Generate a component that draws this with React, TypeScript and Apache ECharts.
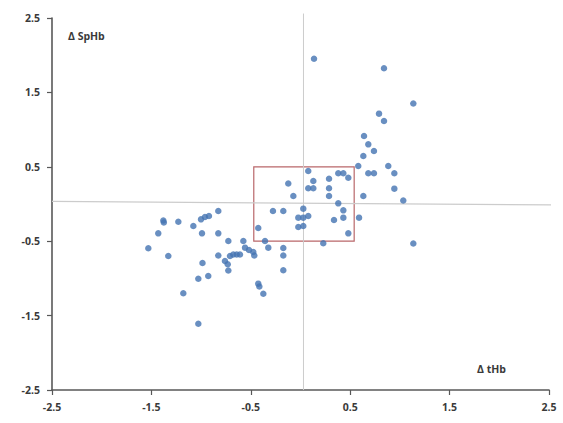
import React, { useEffect, useRef } from "react";
import * as echarts from "echarts";

const tickValues = [-2.5, -1.5, -0.5, 0.5, 1.5, 2.5];

const deltaTHb = [
  -1.531, -1.431, -1.38, -1.375, -1.33, -1.229, -1.179, -1.078, -1.028, -1.028,
  -1.001, -0.961, -0.921, -0.991, -0.986, -0.928, -0.827, -0.827, -0.827, -0.76,
  -0.732, -0.726, -0.709, -0.676, -0.642, -0.609, -0.726, -0.575, -0.558, -0.518,
  -0.475, -0.465, -0.425, -0.357, -0.324, -0.425, -0.414, -0.374, -0.277, -0.173,
  -0.173, -0.173, -0.173, -0.123, -0.072, 0.028, -0.022, 0.028, 0.078, -0.022,
  0.028, 0.078, 0.129, 0.078, 0.129, 0.287, 0.287, 0.287, 0.38, 0.431,
  0.481, 0.38, 0.431, 0.431, 0.337, 0.481, 0.229, 0.136, 0.84, 1.135,
  0.79, 0.84, 0.639, 0.682, 0.739, 0.632, 0.581, 0.883, 0.944, 0.682,
  0.739, 0.944, 1.034, 0.632, 0.589, 1.135,
];

const deltaSpHb = [
  -0.595, -0.394, -0.222, -0.249, -0.699, -0.238, -1.2, -0.296, -1.609, -1.004,
  -0.206, -0.175, -0.161, -0.394, -0.793, -0.968, -0.094, -0.394, -0.692, -0.766,
  -0.81, -0.894, -0.699, -0.679, -0.679, -0.679, -0.497, -0.497, -0.587, -0.618,
  -0.645, -0.692, -0.323, -0.497, -0.587, -1.071, -1.109, -1.206, -0.094, -0.094,
  -0.591, -0.692, -0.891, 0.276, 0.108, -0.063, -0.184, -0.184, -0.161, -0.309,
  -0.296, 0.444, 0.309, 0.211, 0.211, 0.34, 0.211, 0.108, 0.413, 0.413,
  0.353, 0.009, -0.085, -0.184, -0.215, -0.394, -0.528, 1.953, 1.824, 1.351,
  1.214, 1.116, 0.914, 0.802, 0.712, 0.645, 0.511, 0.511, 0.413, 0.413,
  0.413, 0.206, 0.047, 0.108, -0.184, -0.531,
];

const verticalRefLine = [
  [0.03, -2.5],
  [0.03, 2.56],
];
const horizontalRefLine = [
  [-2.5, 0.035],
  [2.56, -0.013],
];
const boxCorners = [
  [-0.47, 0.5],
  [0.54, -0.5],
];

const FONT_FAMILY = "'Open Sans', 'DejaVu Sans', sans-serif";

const labelFont = {
  fontFamily: FONT_FAMILY,
  fontWeight: 700,
  fontSize: 10.5,
  color: "#3a3a3a",
};

export default function App() {
  const ref = useRef<HTMLDivElement>(null);

  useEffect(() => {
    if (!ref.current) return;
    const chart = echarts.init(ref.current, null, { renderer: "svg" });
    const points = deltaTHb.map((x, i) => [x, deltaSpHb[i]]);
    const axisCommon = {
      type: "value" as const,
      min: -2.5,
      max: 2.5,
      splitLine: { show: false },
      axisLine: { show: true, onZero: false, lineStyle: { color: "#585858", width: 1.6 } },
      axisTick: {
        show: true,
        length: 5,
        customValues: tickValues,
        lineStyle: { color: "#585858", width: 1.2 },
      },
      axisLabel: {
        ...labelFont,
        customValues: tickValues,
        formatter: (v: number) => String(v),
      },
    };
    chart.setOption({
      animation: false,
      backgroundColor: "#ffffff",
      grid: { left: 52, right: 14, top: 18, bottom: 33, containLabel: false },
      xAxis: { ...axisCommon, axisLabel: { ...axisCommon.axisLabel, margin: 11 } },
      yAxis: { ...axisCommon, axisLabel: { ...axisCommon.axisLabel, margin: 12 } },
      graphic: [
        { type: "text", left: 68, top: 30, style: { text: "Δ SpHb", fill: "#3a3a3a", font: `bold 10.5px ${FONT_FAMILY}` } },
        { type: "text", left: 477, top: 363, style: { text: "Δ tHb", fill: "#3a3a3a", font: `bold 10.5px ${FONT_FAMILY}` } },
      ],
      series: [
        {
          type: "line",
          data: verticalRefLine,
          symbol: "none",
          clip: false,
          silent: true,
          lineStyle: { color: "#cccccc", width: 1 },
          z: 1,
        },
        {
          type: "line",
          data: horizontalRefLine,
          symbol: "none",
          clip: false,
          silent: true,
          lineStyle: { color: "#cccccc", width: 1.2 },
          z: 1,
        },
        {
          type: "scatter",
          data: points,
          symbol: "circle",
          symbolSize: 6.5,
          itemStyle: { color: "#4473b2" },
          z: 3,
          markArea: {
            silent: true,
            itemStyle: { color: "rgba(0,0,0,0)", borderColor: "#b9676a", borderWidth: 1.2 },
            data: [[{ coord: boxCorners[0] }, { coord: boxCorners[1] }]],
          },
        },
      ],
    });
    return () => chart.dispose();
  }, []);

  return <div ref={ref} style={{ width: 563, height: 423, position: "absolute", left: 0, top: 0 }} />;
}
